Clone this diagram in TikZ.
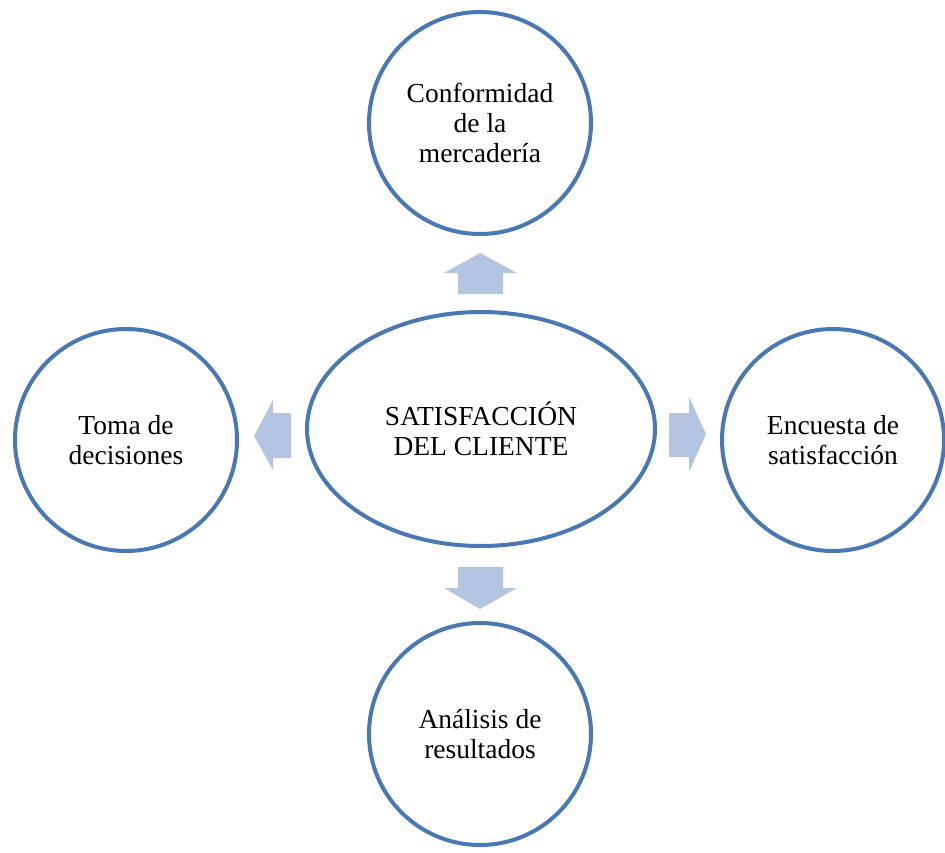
\documentclass[tikz,border=0pt]{standalone}
\usepackage{fontspec}
\setmainfont{Liberation Serif}
\usetikzlibrary{shapes.geometric}

\definecolor{ringblue}{HTML}{4A78B4}
\definecolor{arrowblue}{HTML}{B3C5E1}

\tikzset{
    ring/.style={shape=circle, draw=ringblue, line width=4pt, minimum size=222pt,
        inner sep=0pt, align=center, font=\fontsize{27.5}{30}\selectfont},
    hub/.style={ring, shape=ellipse, minimum width=348pt, minimum height=234pt},
    blockarrow/.style={fill=arrowblue, draw=none}
}

\begin{document}
\begin{tikzpicture}[x=1pt, y=-1pt]
    \useasboundingbox (0, 0) rectangle (945, 852);

    \node [hub]  (centro)    at (481, 429) {SATISFACCIÓN\\DEL CLIENTE};
    \node [ring] (conform)   at (480, 123) {Conformidad\\de la\\mercadería};
    \node [ring] (encuesta)  at (833, 440) {Encuesta de\\satisfacción};
    \node [ring] (analisis)  at (480, 734) {Análisis de\\resultados};
    \node [ring] (decision)  at (126, 440) {Toma de\\decisiones};

    % block arrows around the hub
    \fill [blockarrow] (480, 253) -- (517, 273) -- (503, 273) -- (503, 294)
        -- (458, 294) -- (458, 273) -- (444, 273) -- cycle;
    \fill [blockarrow] (480, 609) -- (517, 588) -- (503, 588) -- (503, 567)
        -- (458, 567) -- (458, 588) -- (444, 588) -- cycle;
    \fill [blockarrow] (706, 434) -- (689, 397) -- (689, 413) -- (669, 413)
        -- (669, 457) -- (689, 457) -- (689, 472) -- cycle;
    \fill [blockarrow] (254, 436) -- (273, 400) -- (273, 413) -- (291, 413)
        -- (291, 458) -- (273, 458) -- (273, 470) -- cycle;
\end{tikzpicture}
\end{document}
